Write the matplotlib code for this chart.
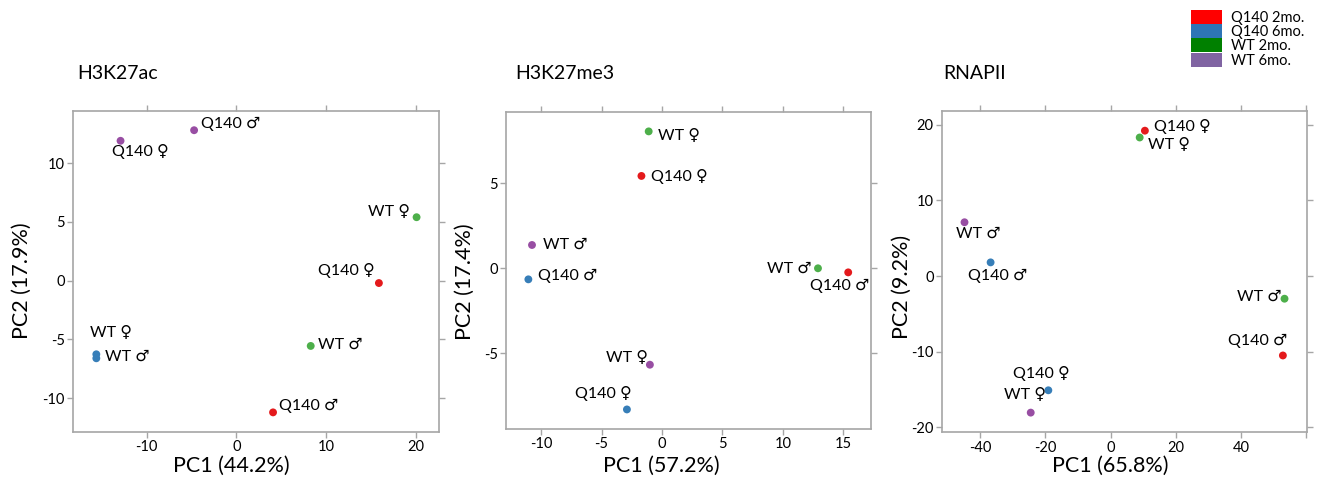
import matplotlib
matplotlib.use("Agg")
import matplotlib.pyplot as plt
from matplotlib.patches import Patch

plt.rcParams['font.family'] = ['Lato', 'DejaVu Sans']

# ---- data ----
group_names = ["Q140 2mo.", "Q140 6mo.", "WT 2mo.", "WT 6mo."]
legend_colors = ["#ff0000", "#2e75b6", "#008000", "#8064a2"]
point_colors = ["#e41a1c", "#377eb8", "#4daf4a", "#984ea3"]

titles = ["H3K27ac", "H3K27me3", "RNAPII"]
xlabels = ["PC1 (44.2%)", "PC1 (57.2%)", "PC1 (65.8%)"]
ylabels = ["PC2 (17.9%)", "PC2 (17.4%)", "PC2 (9.2%)"]

# H3K27ac
ac_pc1 = [-12.9, -4.7, 20.1, 15.9, 8.3, 4.1, -15.6, -15.6]
ac_pc2 = [11.9, 12.8, 5.4, -0.2, -5.55, -11.2, -6.26, -6.6]
ac_group = [3, 3, 2, 0, 2, 0, 1, 1]
ac_label = ["Q140 ♀", "Q140 ♂", "WT ♀", "Q140 ♀", "WT ♂", "Q140 ♂", "WT ♀", "WT ♂"]

# H3K27me3
me3_pc1 = [-1.1, -1.7, -10.75, -11.05, 12.9, 15.4, -1.0, -2.9]
me3_pc2 = [8.05, 5.43, 1.37, -0.65, 0.0, -0.24, -5.67, -8.3]
me3_group = [2, 0, 3, 1, 2, 0, 3, 1]
me3_label = ["WT ♀", "Q140 ♀", "WT ♂", "Q140 ♂", "WT ♂", "Q140 ♂", "WT ♀", "Q140 ♀"]

# RNAPII
rna_pc1 = [10.5, 8.9, -44.8, -36.8, 53.3, 52.8, -19.1, -24.5]
rna_pc2 = [19.2, 18.3, 7.1, 1.8, -3.0, -10.5, -15.1, -18.05]
rna_group = [0, 2, 3, 1, 2, 0, 1, 3]
rna_label = ["Q140 ♀", "WT ♀", "WT ♂", "Q140 ♂", "WT ♂", "Q140 ♂", "Q140 ♀", "WT ♀"]

# ---- layout ----
# label offsets (pixels) and horizontal alignment
ac_off = [(-9, -10.7, 'left'), (7, 6.4, 'left'), (-6.7, 5.6, 'right'), (-4, 12.3, 'right'),
          (7.6, 1, 'left'), (5.6, 6, 'left'), (-6, 21, 'left'), (9, 1.6, 'left')]
me3_off = [(9, -4.4, 'left'), (9.7, -0.7, 'left'), (10.7, 0, 'left'), (10, 3.3, 'left'),
           (-6, -0.7, 'right'), (21, -13.7, 'right'), (-1.7, 6.4, 'right'), (4.4, 16, 'right')]
rna_off = [(9, 4, 'left'), (8.6, -7.7, 'left'), (-8.7, -11.7, 'left'), (-22.4, -13.7, 'left'),
           (-2.6, 2, 'right'), (4.6, 14.6, 'right'), (21, 17, 'right'), (15.3, 17.7, 'right')]

W, H = 1318, 482
fig = plt.figure(figsize=(W / 100, H / 100), dpi=100)

axes_px = [(73, 110.7, 439, 432), (506, 112, 870.7, 429), (942, 111.3, 1306.7, 432.3)]
xlims = [(-18.2, 22.6), (-12.9, 17.26), (-51.7, 60.1)]
ylims = [(-12.87, 14.46), (-9.45, 9.19), (-20.65, 21.76)]
xticks = [[-10, 0, 10, 20], [-10, -5, 0, 5, 10, 15], [-40, -20, 0, 20, 40, 60]]
xticklabels = [["-10", "0", "10", "20"], ["-10", "-5", "0", "5", "10", "15"],
               ["-40", "-20", "0", "20", "40", ""]]
yticks = [[-10, -5, 0, 5, 10], [-5, 0, 5], [-20, -10, 0, 10, 20]]
title_pos = [(0.011, 1.117), (0.025, 1.123), (0.003, 1.119)]
xlab_pos = [(0.4325, -0.106), (0.4255, -0.117), (0.46, -0.105)]
ylab_pos = [(-0.139, 0.47), (-0.112, 0.465), (-0.11, 0.454)]

panels = [(ac_pc1, ac_pc2, ac_group, ac_label, ac_off),
          (me3_pc1, me3_pc2, me3_group, me3_label, me3_off),
          (rna_pc1, rna_pc2, rna_group, rna_label, rna_off)]

spine_col = "#a6a6a6"
for i, (px, py, grp, lab, off) in enumerate(panels):
    l, t, r, b = axes_px[i]
    ax = fig.add_axes([l / W, 1 - b / H, (r - l) / W, (b - t) / H])
    ax.scatter(px, py, c=[point_colors[g] for g in grp], s=32, edgecolors='none', zorder=3)
    for x, y, s, (dx, dy, ha) in zip(px, py, lab, off):
        ax.annotate(s, (x, y), xytext=(dx, dy), textcoords='offset pixels',
                    ha=ha, va='center', fontsize=11.5, color='black')
    ax.set_xlim(*xlims[i])
    ax.set_ylim(*ylims[i])
    ax.set_xticks(xticks[i])
    ax.set_yticks(yticks[i])
    ax.set_xticklabels(xticklabels[i])
    ax.set_yticklabels([str(v) for v in yticks[i]])
    for sp in ax.spines.values():
        sp.set_color(spine_col)
        sp.set_linewidth(1.2)
    ax.tick_params(direction='out', length=4, width=1, color=spine_col,
                   labelsize=10.5, top=True, right=True, labeltop=False, labelright=False,
                   pad=2)
    ax.set_xlabel(xlabels[i], fontsize=15.5)
    ax.set_ylabel(ylabels[i], fontsize=15.5)
    ax.xaxis.set_label_coords(*xlab_pos[i])
    ax.yaxis.set_label_coords(*ylab_pos[i])
    ax.xaxis.label.set_verticalalignment('center')
    ax.yaxis.label.set_verticalalignment('center')
    ax.text(title_pos[i][0], title_pos[i][1], titles[i], transform=ax.transAxes,
            fontsize=14, ha='left', va='center')

handles = [Patch(facecolor=c, edgecolor='none') for c in legend_colors]
fig.legend(handles, group_names, loc='upper left', bbox_to_anchor=(1191 / W, 1 - 10 / H),
           frameon=False, fontsize=10.5, handlelength=2.15, handleheight=1.1,
           labelspacing=-0.05, handletextpad=0.6, borderpad=0, borderaxespad=0)

fig.savefig("out.png", dpi=100)
